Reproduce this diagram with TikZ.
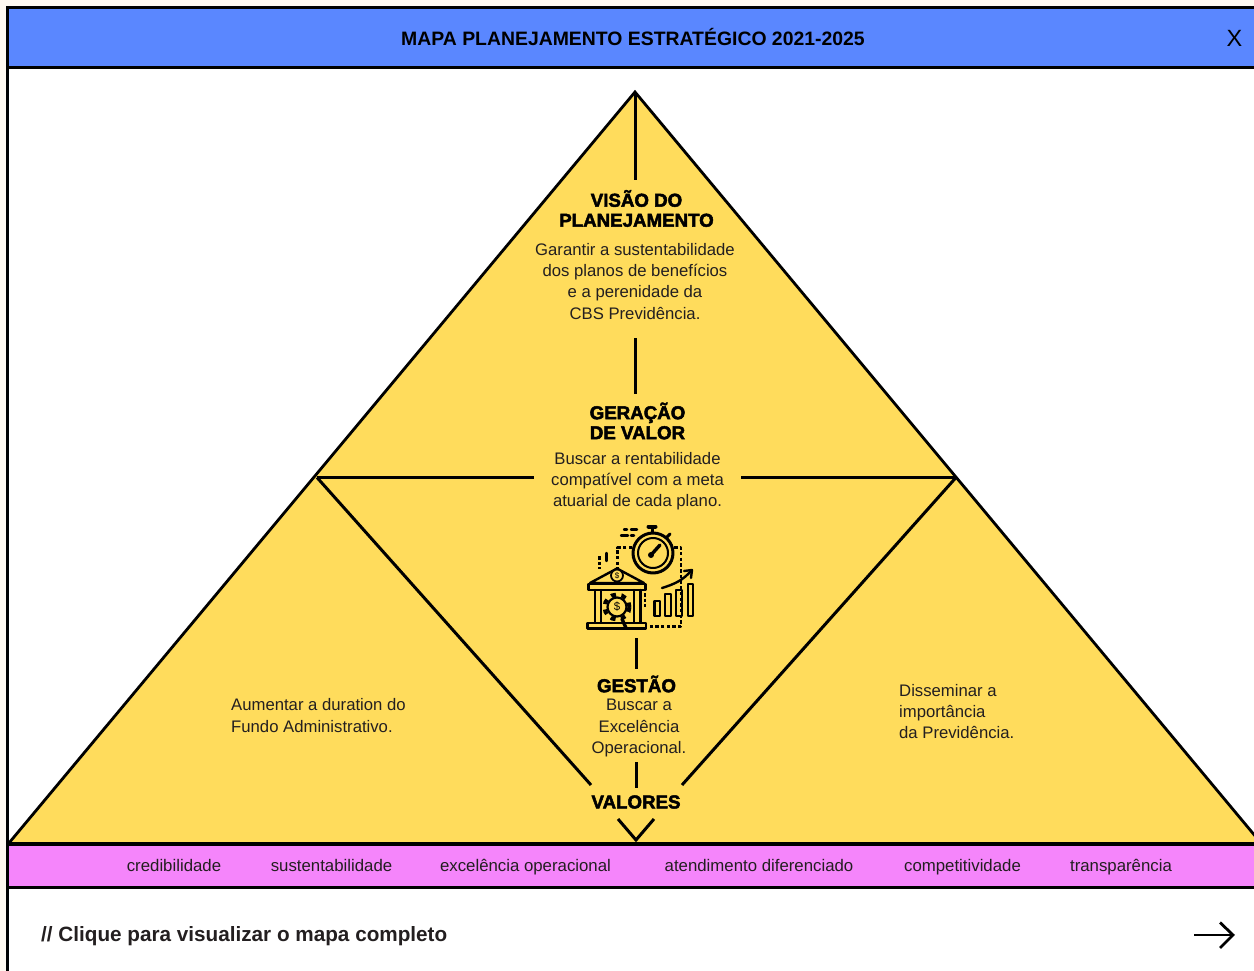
\documentclass[tikz,border=0pt]{standalone}
\usepackage{fontspec}
\setmainfont{Liberation Sans}
\newfontfamily\heavy[UprightFeatures={FakeBold=2.6}]{Liberation Sans Bold}
\definecolor{yel}{HTML}{FFDC5C}
\definecolor{pnk}{HTML}{F585FB}
\definecolor{blu}{HTML}{5A87FF}
\definecolor{crm}{HTML}{FFF9F0}
\definecolor{ink}{HTML}{231F20}
\tikzset{
  tri/.style={draw=black,line width=2.8pt,line join=miter},
  conn/.style={draw=black,line width=3pt},
  head/.style={font=\heavy\fontsize{18.7}{20}\selectfont,align=center,inner sep=0pt,text=black},
  body/.style={font=\fontsize{16.7}{21.2}\selectfont,align=center,inner sep=0pt,text=ink},
  bodyl/.style={body,align=left,anchor=north west},
  val/.style={font=\fontsize{16.8}{20}\selectfont,inner sep=0pt,text=ink,anchor=base},
  ic/.style={draw=black,line width=2.4pt,line cap=round,line join=round},
  icd/.style={ic,line cap=butt,dash pattern=on 3.5pt off 2.2pt,line width=2.4pt},
}
\begin{document}
\begin{tikzpicture}[x=1pt,y=-1pt]
\useasboundingbox (0,0) rectangle (1254,971);
\fill[crm] (0,0) rectangle (1254,971);
\fill[white] (8,68) rectangle (1254,971);
% triangle
\begin{scope}
\clip (0,0) rectangle (1254,971);
\coordinate (apex) at (635,92);
\coordinate (bl) at (9,843);
\coordinate (br) at (1261,843);
\coordinate (ml) at (317,477.5);
\coordinate (mr) at (956,477.5);
\fill[yel] (apex) -- (br) -- (bl) -- cycle;
\draw[tri] (bl) -- (apex) -- (br);
\end{scope}
% frame and header
\fill[blu] (8,8) rectangle (1254,67);
\fill[pnk] (8,844) rectangle (1254,887);
\draw[black,line width=3.2pt] (1254,7.6) -- (7.5,7.6) -- (7.5,971);
\draw[black,line width=3.4pt] (7.5,67.6) -- (1254,67.6);
\draw[black,line width=3.4pt] (7.5,844) -- (1254,844);
\draw[black,line width=3.4pt] (7.5,887.5) -- (1254,887.5);
\node[font=\bfseries\fontsize{19.4}{22}\selectfont,inner sep=0pt] (title) at (633,37) {MAPA PLANEJAMENTO ESTRATÉGICO 2021-2025};
\node[font=\fontsize{23.5}{24}\selectfont,inner sep=0pt] (close) at (1234.5,38) {X};
% inner connectors
\coordinate (l1a) at (635,180);
\coordinate (l2a) at (635,338);
\coordinate (l2b) at (635,394);
\coordinate (h1) at (534,477.5);
\coordinate (h2) at (741,477.5);
\coordinate (dl) at (591,785);
\coordinate (dr) at (682,785);
\coordinate (l3a) at (636,638);
\coordinate (l3b) at (636,669);
\coordinate (l4a) at (636,762);
\coordinate (l4b) at (636,788);
\coordinate (va) at (618,819);
\coordinate (vb) at (636,840);
\coordinate (vc) at (654,819);
\draw[conn] (apex) -- (l1a);
\draw[conn] (l2a) -- (l2b);
\draw[conn] (ml) -- (h1);
\draw[conn] (h2) -- (mr);
\draw[conn] (ml) -- (dl);
\draw[conn] (mr) -- (dr);
\draw[conn] (l3a) -- (l3b);
\draw[conn] (l4a) -- (l4b);
\draw[conn] (va) -- (vb) -- (vc);
% texts
\node[head] (visao) at (636.5,208.5) {VISÃO DO\\PLANEJAMENTO};
\node[body] (visaot) at (635,281.3) {Garantir a sustentabilidade\\dos planos de benefícios\\e a perenidade da\\CBS Previdência.};
\node[head] (geracao) at (637.5,421) {GERAÇÃO\\DE VALOR};
\node[body] (geracaot) at (637.5,481) {Buscar a rentabilidade\\compatível com a meta\\atuarial de cada plano.};
\node[head] (gestao) at (636.5,684) {GESTÃO};
\node[body] (gestaot) at (639,728) {Buscar a\\Excelência\\Operacional.};
\node[head] (valores) at (636,802) {VALORES};
\node[bodyl] (esq) at (231,698.5) {Aumentar a duration do\\Fundo Administrativo.};
\node[bodyl] (dir) at (899,684) {Disseminar a\\importância\\da Previdência.};
\node[val] (v1) at (174,871) {credibilidade};
\node[val] (v2) at (331.5,871) {sustentabilidade};
\node[val] (v3) at (525.5,871) {excelência operacional};
\node[val] (v4) at (759,871) {atendimento diferenciado};
\node[val] (v5) at (962.5,871) {competitividade};
\node[val] (v6) at (1121,871) {transparência};
\node[font=\bfseries\fontsize{20.7}{22}\selectfont,inner sep=0pt,anchor=west,text=ink] (cta) at (41,936.3) {// Clique para visualizar o mapa completo};
% arrow
\coordinate (a1) at (1194,935);
\coordinate (a2) at (1233,935);
\draw[black,line width=2.8pt] (a1) -- (a2);
\draw[black,line width=2.8pt] (1220,922.5) -- (a2) -- (1220,948);
% icon
\draw[ic,line width=3pt] (653,553) circle (20);
\draw[ic,line width=2pt] (653,553) circle (15);
\draw[ic,line width=3.4pt] (651,555) -- (660,545);
\fill[black] (651,555) circle (3);
\draw[ic,line width=3pt] (652,532) -- (652,526.5);
\draw[ic,line width=4pt] (648.5,526.5) -- (655.5,526.5);
\draw[ic,line width=3pt] (667,537) -- (670,534);
\draw[ic] (624,529.5) -- (627,529.5) (631,529.5) -- (637,529.5);
\draw[ic] (621,535.5) -- (628,535.5) (631,535.5) -- (634,535.5);
\draw[icd] (632,547.5) -- (617.5,547.5) -- (617.5,568);
\draw[icd] (674,547.5) -- (681,547.5) -- (681,626.5) -- (648,626.5);
\draw[icd] (645,593) -- (645,607);
\draw[icd] (599.5,556) -- (599.5,569);
\draw[ic] (606.5,553) -- (606.5,561);
% bank
\draw[ic,fill=yel] (590,583) -- (617,568.5) -- (644,583) -- cycle;
\draw[ic,fill=yel,line width=2.8pt] (588.5,584) rectangle (645.5,590);
\draw[ic] (595,590) -- (595,623) (601,590) -- (601,623) (634,590) -- (634,623) (640.5,590) -- (640.5,623);
\draw[ic,fill=yel,line width=2.8pt] (587.5,623) rectangle (646,628.5);
\draw[ic,fill=yel,line width=1.8pt] (617,575.5) circle (6);
\node[font=\fontsize{8}{8}\selectfont,inner sep=0pt] (d1) at (617,575.5) {\$};
\draw[ic,line cap=butt,dash pattern=on 5pt off 5.5pt,line width=4pt] (617,607) circle (12.5);
\draw[ic,fill=yel,line width=2.2pt] (617,607) circle (9.5);
\node[font=\fontsize{11.5}{11}\selectfont,inner sep=0pt] (d2) at (617,607) {\$};
\draw[ic,line width=3.4pt] (622,619) -- (626,628);
% bars
\draw[ic] (654.5,601) rectangle (660,616);
\draw[ic] (665,594) rectangle (671,616);
\draw[ic] (676,590) rectangle (682,616);
\draw[ic] (688,584) rectangle (693,616);
\draw[ic] (662,588) .. controls (675,584) and (683,580) .. (691,571);
\draw[ic] (684,571) -- (692,570) -- (691,578);
\end{tikzpicture}
\end{document}
